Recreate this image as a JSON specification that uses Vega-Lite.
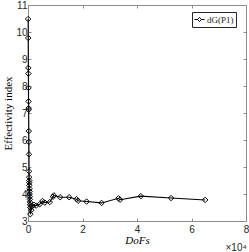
{
  "$schema": "https://vega.github.io/schema/vega-lite/v6.json",
  "width": 218,
  "height": 216,
  "autosize": "none",
  "padding": {"left": 28, "top": 5, "right": 3, "bottom": 31},
  "background": "white",
  "config": {
    "view": {"stroke": "#8c8c8c", "strokeWidth": 1},
    "axis": {"grid": false, "domainColor": "#8c8c8c", "tickColor": "#8c8c8c", "labelFont": "Liberation Sans", "labelFontSize": 10, "labelColor": "#262626", "titleColor": "#000000", "titleFontWeight": "normal"}
  },
  "data": {
    "values": [
      {"DoFs": 50, "index": 10.48, "series": "dG(P1)"},
      {"DoFs": 80, "index": 9.78, "series": "dG(P1)"},
      {"DoFs": 120, "index": 8.67, "series": "dG(P1)"},
      {"DoFs": 140, "index": 8.46, "series": "dG(P1)"},
      {"DoFs": 170, "index": 7.93, "series": "dG(P1)"},
      {"DoFs": 200, "index": 7.43, "series": "dG(P1)"},
      {"DoFs": 230, "index": 7.18, "series": "dG(P1)"},
      {"DoFs": 250, "index": 7.12, "series": "dG(P1)"},
      {"DoFs": 290, "index": 6.33, "series": "dG(P1)"},
      {"DoFs": 320, "index": 5.93, "series": "dG(P1)"},
      {"DoFs": 360, "index": 5.47, "series": "dG(P1)"},
      {"DoFs": 400, "index": 4.84, "series": "dG(P1)"},
      {"DoFs": 430, "index": 4.62, "series": "dG(P1)"},
      {"DoFs": 460, "index": 4.5, "series": "dG(P1)"},
      {"DoFs": 480, "index": 4.42, "series": "dG(P1)"},
      {"DoFs": 510, "index": 4.32, "series": "dG(P1)"},
      {"DoFs": 540, "index": 4.2, "series": "dG(P1)"},
      {"DoFs": 570, "index": 4.1, "series": "dG(P1)"},
      {"DoFs": 600, "index": 4.0, "series": "dG(P1)"},
      {"DoFs": 640, "index": 3.9, "series": "dG(P1)"},
      {"DoFs": 680, "index": 3.8, "series": "dG(P1)"},
      {"DoFs": 720, "index": 3.7, "series": "dG(P1)"},
      {"DoFs": 760, "index": 3.6, "series": "dG(P1)"},
      {"DoFs": 800, "index": 3.5, "series": "dG(P1)"},
      {"DoFs": 850, "index": 3.25, "series": "dG(P1)"},
      {"DoFs": 1200, "index": 3.4, "series": "dG(P1)"},
      {"DoFs": 1600, "index": 3.55, "series": "dG(P1)"},
      {"DoFs": 2200, "index": 3.6, "series": "dG(P1)"},
      {"DoFs": 3000, "index": 3.57, "series": "dG(P1)"},
      {"DoFs": 4300, "index": 3.62, "series": "dG(P1)"},
      {"DoFs": 5300, "index": 3.74, "series": "dG(P1)"},
      {"DoFs": 6200, "index": 3.68, "series": "dG(P1)"},
      {"DoFs": 8000, "index": 3.7, "series": "dG(P1)"},
      {"DoFs": 9200, "index": 3.9, "series": "dG(P1)"},
      {"DoFs": 9500, "index": 3.95, "series": "dG(P1)"},
      {"DoFs": 11800, "index": 3.88, "series": "dG(P1)"},
      {"DoFs": 15100, "index": 3.88, "series": "dG(P1)"},
      {"DoFs": 17800, "index": 3.81, "series": "dG(P1)"},
      {"DoFs": 18400, "index": 3.75, "series": "dG(P1)"},
      {"DoFs": 21500, "index": 3.72, "series": "dG(P1)"},
      {"DoFs": 27000, "index": 3.67, "series": "dG(P1)"},
      {"DoFs": 33200, "index": 3.84, "series": "dG(P1)"},
      {"DoFs": 33800, "index": 3.79, "series": "dG(P1)"},
      {"DoFs": 41400, "index": 3.92, "series": "dG(P1)"},
      {"DoFs": 52500, "index": 3.85, "series": "dG(P1)"},
      {"DoFs": 65000, "index": 3.78, "series": "dG(P1)"}
    ]
  },
  "layer": [
    {
      "mark": {"type": "line", "color": "black", "strokeWidth": 1.1},
      "encoding": {
        "x": {"field": "DoFs", "type": "quantitative", "scale": {"domain": [0, 80000], "nice": false, "zero": false},
          "axis": {"orient": "bottom", "values": [0, 20000, 40000, 60000, 80000], "labelExpr": "datum.value / 10000", "tickSize": -3, "labelPadding": 6, "labelFlush": false,
            "title": "DoFs", "titleFont": "Liberation Serif", "titleFontStyle": "italic", "titleFontSize": 11, "titleX": 109, "titleY": 19, "titleBaseline": "middle", "titleAlign": "center"}},
        "y": {"field": "index", "type": "quantitative", "scale": {"domain": [3, 11], "nice": false, "zero": false},
          "axis": {"orient": "left", "values": [3, 4, 5, 6, 7, 8, 9, 10, 11], "tickSize": -3, "labelPadding": 4, "labelFlush": false,
            "title": "Effectivity index", "titleFont": "Liberation Serif", "titleFontSize": 11, "titleX": -20, "titleY": 108, "titleAngle": 270, "titleAlign": "center", "titleBaseline": "middle"}}
      }
    },
    {
      "mark": {"type": "point", "shape": "diamond", "filled": false, "size": 30, "strokeWidth": 1, "opacity": 1},
      "encoding": {
        "x": {"field": "DoFs", "type": "quantitative",
          "axis": {"orient": "top", "values": [0, 20000, 40000, 60000, 80000], "labels": false, "domain": false, "tickSize": -3,
            "title": "×10⁴", "titleFont": "Liberation Sans", "titleFontSize": 10, "titleColor": "#262626", "titleX": 197, "titleY": 242, "titleAlign": "left", "titleAnchor": "start", "titleBaseline": "middle", "titleAngle": 0}},
        "y": {"field": "index", "type": "quantitative",
          "axis": {"orient": "right", "values": [3, 4, 5, 6, 7, 8, 9, 10, 11], "labels": false, "domain": false, "tickSize": -3, "title": null}},
        "color": {"field": "series", "type": "nominal", "scale": {"range": ["black"]},
          "legend": {"orient": "none", "legendX": 164, "legendY": 7, "title": null, "strokeColor": "#262626", "fillColor": "white", "padding": 2,
            "symbolType": "M-1,0L-0.4,0M0.4,0L1,0M0,-0.4L0.4,0L0,0.4L-0.4,0Z", "symbolSize": 100, "symbolStrokeColor": "black", "symbolFillColor": "white", "symbolStrokeWidth": 1,
            "labelFont": "Liberation Serif", "labelFontSize": 9, "labelColor": "#262626", "labelOffset": 2}}
      }
    }
  ],
  "resolve": {"axis": {"x": "independent", "y": "independent"}}
}
